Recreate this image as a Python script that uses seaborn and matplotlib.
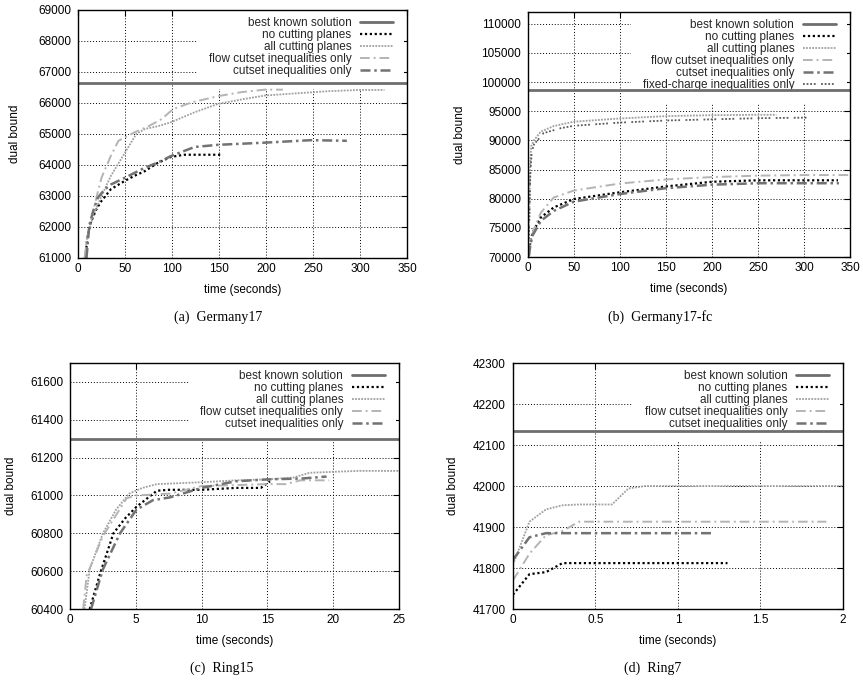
import matplotlib
matplotlib.use("Agg")
import matplotlib.pyplot as plt
import numpy as np
import pandas as pd
import seaborn as sns
from matplotlib.ticker import MultipleLocator, FormatStrFormatter

# ---------------- data ----------------
LABELS = {
    "best": "best known solution",
    "none": "no cutting planes",
    "all": "all cutting planes",
    "flow": "flow cutset inequalities only",
    "cut": "cutset inequalities only",
    "fixed": "fixed-charge inequalities only",
}

# (a) Germany17
G17_BEST = 66650
G17_NONE_T = [8, 10, 14, 20, 25, 35, 50, 60, 71, 85, 99, 113, 130, 152]
G17_NONE_Y = [61000, 61700, 62180, 62600, 62840, 63220, 63490, 63650, 63800, 64070, 64260, 64330, 64330, 64330]
G17_ALL_T = [7, 10, 16, 25, 35, 50, 62, 71, 85, 99, 124, 149, 177, 199, 227, 266, 300, 326]
G17_ALL_Y = [61000, 61700, 62350, 63000, 63650, 64400, 65000, 65160, 65250, 65380, 65700, 65970, 66130, 66240, 66300, 66380, 66420, 66420]
G17_FLOW_T = [7, 10, 14, 20, 25, 35, 43, 60, 75, 89, 101, 121, 149, 174, 199, 218]
G17_FLOW_Y = [61000, 61700, 62240, 63000, 63590, 64300, 64780, 65050, 65250, 65480, 65800, 66020, 66220, 66350, 66430, 66430]
G17_CUT_T = [9, 12, 16, 21, 28, 35, 50, 71, 85, 99, 124, 149, 199, 248, 286]
G17_CUT_Y = [61000, 62050, 62500, 62940, 63200, 63370, 63590, 63910, 64080, 64290, 64580, 64650, 64720, 64800, 64780]

# (b) Germany17-fc
FC_BEST = 98700
FC_ALL_T = [0.5, 1.5, 2.5, 3.5, 6.5, 14, 28, 50, 100, 150, 200, 250, 270]
FC_ALL_Y = [70000, 78000, 86000, 89000, 90000, 91500, 92450, 93200, 93750, 94150, 94320, 94380, 94380]
FC_FIXED_T = [0.5, 1.5, 2.5, 4, 6.5, 17, 36, 50, 100, 150, 200, 250, 308]
FC_FIXED_Y = [70000, 77000, 84000, 88000, 89300, 91250, 92100, 92500, 93050, 93400, 93600, 93800, 93900]
FC_FLOW_T = [1, 3, 6.5, 14, 28, 50, 100, 150, 200, 250, 300, 350]
FC_FLOW_Y = [70500, 73000, 74800, 77600, 80200, 81400, 82600, 83300, 83700, 83950, 84050, 84050]
FC_NONE_T = [1, 2.5, 5, 14, 28, 50, 100, 150, 200, 250, 337]
FC_NONE_Y = [70300, 72500, 74200, 76800, 78500, 79950, 81100, 82100, 82900, 83150, 83150]
FC_CUT_T = [1, 2.5, 5, 14, 28, 50, 100, 150, 200, 250, 338]
FC_CUT_Y = [70200, 72000, 73700, 76200, 77900, 79500, 80800, 81800, 82400, 82650, 82650]

# (c) Ring15
R15_BEST = 61300
R15_ALL_T = [1.1, 1.5, 2.5, 3.5, 4.5, 5.5, 6.6, 10, 12.6, 15, 17, 18.2, 20, 22, 25]
R15_ALL_Y = [60400, 60610, 60800, 60925, 61010, 61040, 61060, 61070, 61080, 61085, 61095, 61120, 61125, 61130, 61130]
R15_FLOW_T = [1.0, 1.26, 2.5, 4.3, 5, 7.6, 10, 12.6, 15, 16.4, 17.5, 19.7]
R15_FLOW_Y = [60400, 60575, 60785, 60985, 61000, 61010, 61050, 61055, 61060, 61060, 61080, 61080]
R15_NONE_T = [1.5, 2.3, 3.3, 4.2, 5.05, 6.6, 7.5, 10, 12.6, 14.5, 15.2]
R15_NONE_Y = [60400, 60590, 60800, 60880, 60940, 61025, 61030, 61030, 61040, 61040, 61075]
R15_CUT_T = [1.6, 2.5, 3.8, 5.05, 6.3, 7.6, 10, 12.6, 15, 17.7, 19.5]
R15_CUT_Y = [60400, 60610, 60800, 60925, 60975, 60990, 61040, 61075, 61085, 61090, 61100]

# (d) Ring7
R7_BEST = 42135
R7_ALL_T = [0, 0.1, 0.2, 0.3, 0.4, 0.6, 0.7, 0.8, 2.0]
R7_ALL_Y = [41808, 41913, 41943, 41953, 41955, 41955, 41994, 42000, 42000]
R7_FLOW_T = [0, 0.1, 0.2, 0.3, 0.4, 1.9]
R7_FLOW_Y = [41770, 41835, 41880, 41890, 41913, 41913]
R7_CUT_T = [0, 0.1, 0.2, 0.4, 1.2]
R7_CUT_Y = [41820, 41875, 41885, 41885, 41885]
R7_NONE_T = [0, 0.1, 0.2, 0.3, 1.3]
R7_NONE_Y = [41735, 41785, 41790, 41812, 41812]

CAPTIONS = ["(a)  Germany17", "(b)  Germany17-fc", "(c)  Ring15", "(d)  Ring7"]

# ---------------- style ----------------
sns.set_theme(style="white")
plt.rcParams["font.family"] = ["Liberation Sans", "DejaVu Sans"]

STYLES = {
    "best": dict(color="#6e6e6e", lw=2.0, ls="-"),
    "none": dict(color="black", lw=1.6, ls=(0, (1, 1.2))),
    "all": dict(color="#a0a0a0", lw=1.3, ls=(0, (1, 0.7))),
    "flow": dict(color="#b4b4b4", lw=1.4, ls=(0, (5, 2, 1, 2))),
    "cut": dict(color="#727272", lw=1.8, ls=(0, (4, 1.5, 1, 1.5))),
    "fixed": dict(color="#5a5a5a", lw=1.3, ls=(0, (1, 1, 1, 1, 1, 1, 1, 3))),
}

FS = 8.5

fig = plt.figure(figsize=(8.63, 6.83), dpi=100)


def panel(rect, best, series, xlim, xstep, ylim, ystep, ylab_x, caption, cap_xy, xfmt=None):
    ax = fig.add_axes(rect)
    ax.axhline(best, color=STYLES["best"]["color"], lw=STYLES["best"]["lw"],
               ls="-", label=LABELS["best"], zorder=2.45)
    for key, t, y in series:
        df = pd.DataFrame({"t": t, "y": y})
        st = STYLES[key]
        sns.lineplot(data=df, x="t", y="y", ax=ax, estimator=None, sort=False,
                     color=st["color"], linewidth=st["lw"], linestyle=st["ls"],
                     label=LABELS[key], zorder=2.4)
    ax.set_xlim(*xlim)
    ax.set_ylim(*ylim)
    ax.xaxis.set_major_locator(MultipleLocator(xstep))
    ax.yaxis.set_major_locator(MultipleLocator(ystep))
    if xfmt:
        ax.xaxis.set_major_formatter(FormatStrFormatter(xfmt))
    ax.grid(True, color="black", lw=0.7, ls=(0, (1, 2)))
    ax.tick_params(direction="in", top=True, right=True, length=4, width=0.8,
                   labelsize=FS, colors="black")
    ax.tick_params(axis="x", pad=3.5)
    ax.tick_params(axis="y", pad=5)
    for s in ax.spines.values():
        s.set_color("black")
        s.set_linewidth(1.0)
    ax.set_xlabel("time (seconds)", fontsize=FS, color="black")
    ax.set_ylabel("dual bound", fontsize=FS, color="black")
    ax.xaxis.set_label_coords(0.5, -0.105)
    ax.yaxis.set_label_coords(ylab_x, 0.5)
    handles, labels = ax.get_legend_handles_labels()
    w_px = rect[2] * 863
    h_px = rect[3] * 683
    leg = ax.legend(handles, labels, loc="upper right",
                    bbox_to_anchor=(1 - 8.5 / w_px, 1.0 - 1.5 / h_px), borderaxespad=0,
                    markerfirst=False, fontsize=FS, handlelength=2.8,
                    handletextpad=0.7, labelspacing=0.0, borderpad=0.5,
                    frameon=True, fancybox=False, facecolor="white",
                    edgecolor="none", framealpha=1)
    leg.get_frame().set_boxstyle("square", pad=0.45)
    leg.set_zorder(2.2)
    fig.text(cap_xy[0], cap_xy[1], caption, family=["Liberation Serif", "DejaVu Serif"],
             fontsize=10, ha="center", va="center", color="black")
    return ax


panel([0.0904, 0.6223, 0.3812, 0.3631], G17_BEST,
      [("none", G17_NONE_T, G17_NONE_Y), ("all", G17_ALL_T, G17_ALL_Y),
       ("flow", G17_FLOW_T, G17_FLOW_Y), ("cut", G17_CUT_T, G17_CUT_Y)],
      (0, 350), 50, (61000, 69000), 1000, -0.173, CAPTIONS[0], (0.2526, 0.5359))

panel([0.6118, 0.6237, 0.3731, 0.3587], FC_BEST,
      [("none", FC_NONE_T, FC_NONE_Y), ("all", FC_ALL_T, FC_ALL_Y),
       ("flow", FC_FLOW_T, FC_FLOW_Y), ("cut", FC_CUT_T, FC_CUT_Y),
       ("fixed", FC_FIXED_T, FC_FIXED_Y)],
      (0, 350), 50, (70000, 112000), 5000, -0.193, CAPTIONS[1], (0.765, 0.5359))

panel([0.0811, 0.1083, 0.3812, 0.3602], R15_BEST,
      [("none", R15_NONE_T, R15_NONE_Y), ("all", R15_ALL_T, R15_ALL_Y),
       ("flow", R15_FLOW_T, R15_FLOW_Y), ("cut", R15_CUT_T, R15_CUT_Y)],
      (0, 25), 5, (60400, 61700), 200, -0.161, CAPTIONS[2], (0.257, 0.022))

panel([0.5944, 0.1083, 0.3824, 0.3602], R7_BEST,
      [("none", R7_NONE_T, R7_NONE_Y), ("all", R7_ALL_T, R7_ALL_Y),
       ("flow", R7_FLOW_T, R7_FLOW_Y), ("cut", R7_CUT_T, R7_CUT_Y)],
      (0, 2), 0.5, (41700, 42300), 100, -0.164, CAPTIONS[3], (0.7567, 0.022), xfmt="%g")

fig.savefig("out.png", dpi=100, facecolor="white")
